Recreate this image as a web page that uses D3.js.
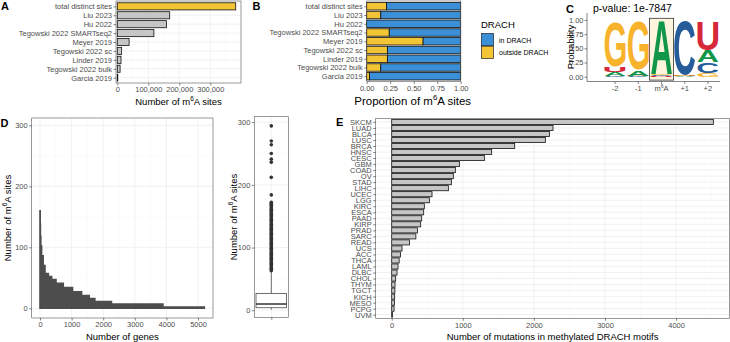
<!DOCTYPE html>
<html>
<head>
<meta charset="utf-8">
<script src="https://cdn.jsdelivr.net/npm/d3@7"></script>
<style>
  body { margin: 0; background: #fff; }
  svg { display: block; }
</style>
</head>
<body>
<div id="chart-area"></div>
<script>
// ---- data ----
const datasets = ["total distinct sites", "Liu 2023", "Hu 2022", "Tegowski 2022 SMARTseq2", "Meyer 2019",
  "Tegowski 2022 sc", "Linder 2019", "Tegowski 2022 bulk", "Garcia 2019"];
const siteCounts = [382000, 169000, 159000, 118000, 38000, 14000, 12000, 9000, 1500];
const outsideShare = [0.21, 0.15, 0.0, 0.24, 0.60, 0.22, 0.22, 0.15, 0.03];
const drachGroups = ["in DRACH", "outside DRACH"];

const logoPositions = ["-2", "-1", "m6A", "+1", "+2"];
const probA = [0.07, 0.10, 0.93, 0.01, 0.20];
const probC = [0.02, 0.01, 0.02, 0.96, 0.19];
const probG = [0.80, 0.86, 0.02, 0.02, 0.07];
const probU = [0.08, 0.01, 0.01, 0.01, 0.50];

// step outline of genes ranked by number of sites
const geneBreaks = [0, 5, 12, 25, 50, 100, 158, 263, 368, 505, 736, 1030, 1315, 1556, 1735, 2261, 3890, 5200];
const stepSites = [160, 138, 118, 102, 86, 70, 57, 52, 47, 41, 34, 27, 21, 16, 11, 7, 2];

// whisker low, q1, median, q3, whisker high
const boxSites = [1, 4, 10, 27, 62];
const outlierSites = [63, 65, 67, 69, 71, 73, 75, 77, 79, 81, 83, 85, 87, 89, 91, 93, 95, 97, 99, 101, 103, 105,
  107, 109, 111, 113, 115, 117, 119, 121, 123, 125, 127, 129, 131, 133, 135, 137, 139, 141, 143, 145, 147, 149,
  151, 153, 155, 157, 159, 161, 163, 165, 167, 169, 171, 172, 184, 212, 236, 241, 250, 264, 270, 294];

const cancers = ["SKCM", "LUAD", "BLCA", "LUSC", "BRCA", "HNSC", "CESC", "GBM", "COAD", "OV", "STAD", "LIHC",
  "UCEC", "LGG", "KIRC", "ESCA", "PAAD", "KIRP", "PRAD", "SARC", "READ", "UCS", "ACC", "THCA", "LAML", "DLBC",
  "CHOL", "THYM", "TGCT", "KICH", "MESO", "PCPG", "UVM"];
const mutations = [4524, 2269, 2218, 2161, 1730, 1406, 1303, 952, 895, 867, 839, 797, 567, 530, 459, 450, 422,
  408, 364, 340, 250, 145, 124, 105, 89, 75, 56, 47, 45, 42, 38, 33, 10];

// ---- style ----
const FONT = '"Liberation Sans", Arial, Helvetica, sans-serif';
const TICK_FS = 7.5;
const TITLE_FS = 9.5;
const GREY_BAR = "#c6c6c6";
const YELLOW = "#f3c434";
const BLUE = "#3a8fd7";
const letterColors = { A: "#109648", C: "#255C99", G: "#F7B32B", U: "#D62839" };

const svg = d3.select("#chart-area").append("svg")
  .attr("width", 730).attr("height", 342)
  .attr("font-family", FONT);
svg.append("rect").attr("width", 730).attr("height", 342).attr("fill", "#fff");

function vGrid(g, scale, values, y0, y1, color, w) {
  g.append("g").selectAll("line").data(values).join("line")
    .attr("x1", d => scale(d)).attr("x2", d => scale(d))
    .attr("y1", y0).attr("y2", y1)
    .attr("stroke", color).attr("stroke-width", w);
}
function hGrid(g, scale, values, x0, x1, color, w) {
  g.append("g").selectAll("line").data(values).join("line")
    .attr("y1", d => scale(d)).attr("y2", d => scale(d))
    .attr("x1", x0).attr("x2", x1)
    .attr("stroke", color).attr("stroke-width", w);
}
function frame(g, x0, y0, x1, y1) {
  g.append("rect").attr("x", x0).attr("y", y0).attr("width", x1 - x0).attr("height", y1 - y0)
    .attr("fill", "none").attr("stroke", "#555").attr("stroke-width", 0.6);
}
function styleAxis(sel) {
  sel.attr("font-family", FONT).attr("font-size", TICK_FS);
  sel.select(".domain").remove();
  sel.selectAll(".tick line").attr("stroke", "#333").attr("stroke-width", 0.6);
  sel.selectAll(".tick text").attr("fill", "#4d4d4d");
}
// title containing m6A with a superscript 6
function m6aTitle(g, before, after, x, y, fs, rotate) {
  const t = g.append("text")
    .attr("text-anchor", "middle").attr("font-size", fs).attr("fill", "#000")
    .attr("transform", `translate(${x},${y})` + (rotate ? " rotate(-90)" : ""));
  t.append("tspan").text(before + "m");
  t.append("tspan").attr("dy", -fs * 0.42).attr("font-size", fs * 0.68).text("6");
  t.append("tspan").attr("dy", fs * 0.42).text("A" + after);
  return t;
}
function panelLabel(txt, x, y) {
  svg.append("text").attr("x", x).attr("y", y).attr("font-size", 11).attr("font-weight", "bold").text(txt);
}

// ---- A: number of sites per dataset ----
const gA = svg.append("g");
const A = { x0: 116, x1: 241, y0: 1, y1: 83 };
const xA = d3.scaleLinear().domain([-4200, 399000]).range([A.x0, A.x1]);
const yA = d3.scalePoint().domain(datasets).range([A.y0, A.y1]).padding(0.6);
vGrid(gA, xA, [50000, 150000, 250000, 350000], A.y0, A.y1, "#f4f4f4", 0.4);
vGrid(gA, xA, [0, 100000, 200000, 300000], A.y0, A.y1, "#ebebeb", 0.7);
hGrid(gA, yA, datasets, A.x0, A.x1, "#ebebeb", 0.7);
const hA = yA.step() * 0.8;
gA.selectAll(".barA").data(datasets).join("rect")
  .attr("x", xA(0))
  .attr("y", d => yA(d) - hA / 2)
  .attr("width", (d, i) => xA(siteCounts[i]) - xA(0))
  .attr("height", hA)
  .attr("fill", (d, i) => i === 0 ? YELLOW : GREY_BAR)
  .attr("stroke", "#111").attr("stroke-width", 0.8);
frame(gA, A.x0, A.y0, A.x1, A.y1);
gA.append("g").attr("transform", `translate(0,${A.y1})`)
  .call(d3.axisBottom(xA).tickValues([0, 100000, 200000, 300000]).tickFormat(d3.format(",")).tickSize(2.5).tickPadding(1.5))
  .call(styleAxis);
gA.append("g").attr("transform", `translate(${A.x0},0)`)
  .call(d3.axisLeft(yA).tickSize(2.5).tickPadding(1.5))
  .call(styleAxis);
m6aTitle(gA, "Number of ", " sites", (A.x0 + A.x1) / 2, 105, TITLE_FS, false);

// ---- B: proportion in / outside DRACH ----
const gB = svg.append("g");
const B = { x0: 366.7, x1: 460.7, y0: 1, y1: 81.5 };
const xB = d3.scaleLinear().domain([0, 1]).range([B.x0, B.x1]);
const yB = d3.scalePoint().domain(datasets).range([B.y0, B.y1]).padding(0.6);
hGrid(gB, yB, datasets, B.x0, B.x1, "#ebebeb", 0.7);
const hB = yB.step() * 0.85;
gB.selectAll(".outB").data(datasets).join("rect")
  .attr("x", xB(0)).attr("y", d => yB(d) - hB / 2)
  .attr("width", (d, i) => xB(outsideShare[i]) - xB(0)).attr("height", hB)
  .attr("fill", YELLOW).attr("stroke", "#111").attr("stroke-width", 0.8);
gB.selectAll(".inB").data(datasets).join("rect")
  .attr("x", (d, i) => xB(outsideShare[i])).attr("y", d => yB(d) - hB / 2)
  .attr("width", (d, i) => xB(1) - xB(outsideShare[i])).attr("height", hB)
  .attr("fill", BLUE).attr("stroke", "#111").attr("stroke-width", 0.8);
frame(gB, B.x0, B.y0, B.x1, B.y1);
gB.append("g").attr("transform", `translate(0,${B.y1})`)
  .call(d3.axisBottom(xB).tickValues([0, 0.25, 0.5, 0.75, 1]).tickFormat(d3.format(".2f")).tickSize(2.5).tickPadding(1.5))
  .call(styleAxis);
gB.append("g").attr("transform", `translate(${B.x0},0)`)
  .call(d3.axisLeft(yB).tickSize(2.5).tickPadding(1.5))
  .call(styleAxis);
m6aTitle(gB, "Proportion of ", " sites", (B.x0 + B.x1) / 2 - 1, 105, 11.5, false);

// legend
const legB = svg.append("g").attr("transform", "translate(481,0)");
legB.append("text").attr("x", 0).attr("y", 28).attr("font-size", TITLE_FS).text("DRACH");
drachGroups.forEach((grp, i) => {
  legB.append("rect").attr("x", 0.5).attr("y", 33.5 + i * 12.7).attr("width", 12).attr("height", 12.2)
    .attr("fill", i === 0 ? BLUE : YELLOW).attr("stroke", "#222").attr("stroke-width", 0.7);
  legB.append("text").attr("x", 18).attr("y", 42.5 + i * 12.7).attr("font-size", 7).text(grp);
});

// ---- C: sequence logo ----
const gC = svg.append("g");
const C = { x0: 587, x1: 720, y0: 13, y1: 81.5 };
const xC = d3.scaleBand().domain(logoPositions).range([603.5, 719.5]).paddingInner(0.1).paddingOuter(0.05);
const yC = d3.scaleLinear().domain([0, 1]).range([76.7, 20]);
// highlight box behind the modified position
const stepC = xC.step();
gC.append("rect")
  .attr("x", xC("m6A") + xC.bandwidth() / 2 - stepC / 2 - 0.5)
  .attr("y", yC(1.03)).attr("width", stepC + 1).attr("height", yC(-0.06) - yC(1.03))
  .attr("fill", "#fcf4dc").attr("stroke", "#333").attr("stroke-width", 0.8);

const ctx = document.createElement("canvas").getContext("2d");
ctx.font = `bold 100px ${FONT}`;
function drawLetter(ch, x0, x1, yTop, yBot) {
  if (yBot - yTop < 0.3) return;
  const m = ctx.measureText(ch);
  const w = m.actualBoundingBoxLeft + m.actualBoundingBoxRight;
  const h = m.actualBoundingBoxAscent + m.actualBoundingBoxDescent;
  const sx = (x1 - x0) / w, sy = (yBot - yTop) / h;
  gC.append("text").text(ch)
    .attr("font-size", 100).attr("font-weight", "bold").attr("fill", letterColors[ch])
    .attr("transform", `translate(${x0 + m.actualBoundingBoxLeft * sx},${yTop + m.actualBoundingBoxAscent * sy}) scale(${sx},${sy})`);
}
logoPositions.forEach((pos, i) => {
  const stack = [["A", probA[i]], ["C", probC[i]], ["G", probG[i]], ["U", probU[i]]]
    .sort((a, b) => a[1] - b[1]);
  let base = 0;
  stack.forEach(([ch, p]) => {
    drawLetter(ch, xC(pos), xC(pos) + xC.bandwidth(), yC(base + p), yC(base));
    base += p;
  });
});
// axes
gC.append("line").attr("x1", C.x0).attr("x2", C.x0).attr("y1", C.y0).attr("y2", C.y1)
  .attr("stroke", "#333").attr("stroke-width", 0.6);
gC.append("line").attr("x1", C.x0).attr("x2", C.x1).attr("y1", C.y1).attr("y2", C.y1)
  .attr("stroke", "#333").attr("stroke-width", 0.6);
gC.append("g").attr("transform", `translate(${C.x0},0)`)
  .call(d3.axisLeft(yC).tickValues([0, 0.25, 0.5, 0.75, 1]).tickFormat(d3.format(".2f")).tickSize(2.5).tickPadding(1))
  .call(styleAxis);
const axC = gC.append("g").attr("transform", `translate(0,${C.y1})`)
  .call(d3.axisBottom(xC).tickSize(2.5).tickPadding(2))
  .call(styleAxis);
axC.selectAll(".tick text").filter(d => d === "m6A").text(null)
  .call(t => {
    t.append("tspan").text("m");
    t.append("tspan").attr("dy", -3).attr("font-size", 5.2).text("6");
    t.append("tspan").attr("dy", 3).text("A");
  });
gC.append("text").attr("transform", "translate(574,47) rotate(-90)")
  .attr("text-anchor", "middle").attr("font-size", TITLE_FS).text("Probability");
gC.append("text").attr("x", 593).attr("y", 12).attr("font-size", 10.5).text("p-value: 1e-7847");

// ---- D: sites per gene ----
const gD = svg.append("g");
const D = { x0: 31.7, x1: 213, y0: 118, y1: 318 };
const xD = d3.scaleLinear().domain([-263, 5475]).range([D.x0, D.x1]);
const yD = d3.scaleLinear().domain([-15.9, 312]).range([D.y1, D.y0]);
vGrid(gD, xD, [500, 1500, 2500, 3500, 4500], D.y0, D.y1, "#f4f4f4", 0.4);
hGrid(gD, yD, [50, 150, 250], D.x0, D.x1, "#f4f4f4", 0.4);
vGrid(gD, xD, [0, 1000, 2000, 3000, 4000, 5000], D.y0, D.y1, "#ebebeb", 0.7);
hGrid(gD, yD, [0, 100, 200, 300], D.x0, D.x1, "#ebebeb", 0.7);
const stepPts = geneBreaks.map((gb, i) => ({ g: gb, s: stepSites[Math.min(i, stepSites.length - 1)] }));
gD.append("path").datum(stepPts)
  .attr("d", d3.area().curve(d3.curveStepAfter).x(d => xD(d.g)).y0(yD(0)).y1(d => yD(d.s)))
  .attr("fill", "#4d4d4d").attr("stroke", "#4d4d4d").attr("stroke-width", 1.6);
frame(gD, D.x0, D.y0, D.x1, D.y1);
gD.append("g").attr("transform", `translate(0,${D.y1})`)
  .call(d3.axisBottom(xD).tickValues([0, 1000, 2000, 3000, 4000, 5000]).tickFormat(d3.format("d")).tickSize(2.5).tickPadding(1.5))
  .call(styleAxis);
gD.append("g").attr("transform", `translate(${D.x0},0)`)
  .call(d3.axisLeft(yD).tickValues([0, 100, 200, 300]).tickSize(2.5).tickPadding(1.5))
  .call(styleAxis);
gD.append("text").attr("x", (D.x0 + D.x1) / 2).attr("y", 339.5).attr("text-anchor", "middle")
  .attr("font-size", TITLE_FS).text("Number of genes");
m6aTitle(gD, "Number of ", " sites", 10.8, (D.y0 + D.y1) / 2, TITLE_FS, true);

// box plot
const gBox = svg.append("g");
const BX = { x0: 254.3, x1: 288.3, y0: 116.7, y1: 317.3 };
const yBox = d3.scaleLinear().domain([-11.2, 308.7]).range([BX.y1, BX.y0]);
const xBox = d3.scalePoint().domain(["all"]).range([BX.x0, BX.x1]).padding(0.5);
hGrid(gBox, yBox, [50, 150, 250], BX.x0, BX.x1, "#f4f4f4", 0.4);
hGrid(gBox, yBox, [0, 100, 200, 300], BX.x0, BX.x1, "#ebebeb", 0.7);
vGrid(gBox, xBox, ["all"], BX.y0, BX.y1, "#ebebeb", 0.7);
const cx = xBox("all"), bw = (BX.x1 - BX.x0) * 0.9;
gBox.append("line").attr("x1", cx).attr("x2", cx).attr("y1", yBox(boxSites[3])).attr("y2", yBox(boxSites[4]))
  .attr("stroke", "#333").attr("stroke-width", 0.7);
gBox.append("line").attr("x1", cx).attr("x2", cx).attr("y1", yBox(boxSites[0])).attr("y2", yBox(boxSites[1]))
  .attr("stroke", "#333").attr("stroke-width", 0.7);
gBox.append("rect").attr("x", cx - bw / 2).attr("width", bw)
  .attr("y", yBox(boxSites[3])).attr("height", yBox(boxSites[1]) - yBox(boxSites[3]))
  .attr("fill", "#fff").attr("stroke", "#333").attr("stroke-width", 0.7);
gBox.append("line").attr("x1", cx - bw / 2).attr("x2", cx + bw / 2)
  .attr("y1", yBox(boxSites[2])).attr("y2", yBox(boxSites[2]))
  .attr("stroke", "#333").attr("stroke-width", 1.5);
gBox.selectAll(".out").data(outlierSites).join("circle")
  .attr("cx", cx).attr("cy", d => yBox(d)).attr("r", 1.8).attr("fill", "#333");
frame(gBox, BX.x0, BX.y0, BX.x1, BX.y1);
gBox.append("g").attr("transform", `translate(0,${BX.y1})`)
  .call(d3.axisBottom(xBox).tickFormat("").tickSize(2.5))
  .call(styleAxis);
gBox.append("g").attr("transform", `translate(${BX.x0},0)`)
  .call(d3.axisLeft(yBox).tickValues([0, 100, 200, 300]).tickSize(2.5).tickPadding(1.5))
  .call(styleAxis);
m6aTitle(gBox, "Number of ", " sites", 236.5, (BX.y0 + BX.y1) / 2, TITLE_FS, true);

// ---- E: mutations per cancer type ----
const gE = svg.append("g");
const E = { x0: 375.7, x1: 729.5, y0: 118.3, y1: 318.3 };
const xE = d3.scaleLinear().domain([-225, 4751]).range([E.x0, E.x1]);
const yE = d3.scalePoint().domain(cancers).range([E.y0, E.y1]).padding(0.6);
vGrid(gE, xE, [500, 1500, 2500, 3500, 4500], E.y0, E.y1, "#f4f4f4", 0.4);
vGrid(gE, xE, [0, 1000, 2000, 3000, 4000], E.y0, E.y1, "#ebebeb", 0.7);
hGrid(gE, yE, cancers, E.x0, E.x1, "#ebebeb", 0.7);
const hE = yE.step() * 0.85;
gE.selectAll(".barE").data(cancers).join("rect")
  .attr("x", xE(0)).attr("y", d => yE(d) - hE / 2)
  .attr("width", (d, i) => xE(mutations[i]) - xE(0)).attr("height", hE)
  .attr("fill", GREY_BAR).attr("stroke", "#111").attr("stroke-width", 0.8);
frame(gE, E.x0, E.y0, E.x1, E.y1);
gE.append("g").attr("transform", `translate(0,${E.y1})`)
  .call(d3.axisBottom(xE).tickValues([0, 1000, 2000, 3000, 4000]).tickFormat(d3.format("d")).tickSize(2.5).tickPadding(1.5))
  .call(styleAxis);
gE.append("g").attr("transform", `translate(${E.x0},0)`)
  .call(d3.axisLeft(yE).tickSize(2.5).tickPadding(1.5))
  .call(styleAxis);
gE.append("text").attr("x", (E.x0 + E.x1) / 2).attr("y", 340).attr("text-anchor", "middle")
  .attr("font-size", TITLE_FS).text("Number of mutations in methylated DRACH motifs");

// ---- panel letters ----
panelLabel("A", 1, 10);
panelLabel("B", 252.5, 10);
panelLabel("C", 566, 13);
panelLabel("D", 0.5, 127);
panelLabel("E", 336, 126);
</script>
</body>
</html>
